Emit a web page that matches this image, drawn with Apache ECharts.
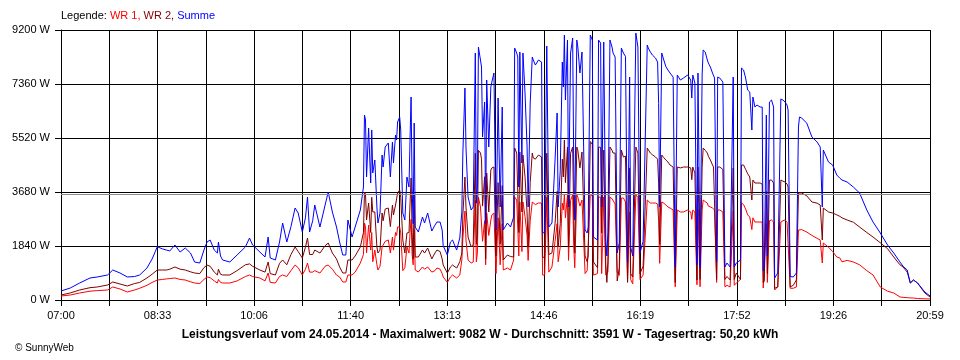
<!DOCTYPE html>
<html>
<head>
<meta charset="utf-8">
<script src="https://cdn.jsdelivr.net/npm/echarts@6.0.0/dist/echarts.min.js"></script>
<style>
html,body{margin:0;padding:0;background:#fff;}
#chart{width:960px;height:360px;}
</style>
</head>
<body>
<div id="chart"></div>
<script>
// minutes after 07:00
const timeMin = [
0,9,18,28,35,45,50,57,64,71,
76,83,88,93,98,102,105,110,115,120,
125,129,134,138,141,144,148,151,152,154,
156,163,170,178,182,185,192,197,200,202,
207,211,214,218,222,226,229,233,236,238,
240,243,245,250,255,258,262,266,269,272,
275,277,281,284,289,292,293,294,295,297,
299,300,301,303,305,306,308,310,311,313,
316,318,320,321,323,324,325,327,328,330,
332,334,336,337,338,339,340,341,342,345,
349,351,354,358,361,363,366,368,369,373,
376,378,382,385,387,388,390,391,393,396,
398,400,401,402,403,405,406,407,409,410,
411,413,415,416,418,420,422,424,426,427,
431,434,437,438,440,441,442,443,445,446,
448,450,451,453,455,456,458,461,464,465,
467,469,471,474,477,479,480,482,484,485,
486,487,489,490,492,494,495,496,498,499,
501,503,504,506,508,509,511,513,514,518,
519,521,522,524,526,527,528,530,532,533,
535,537,539,541,543,545,547,549,550,552,
555,557,559,562,566,567,569,571,574,576,
577,578,580,582,584,586,588,591,593,595,
598,601,605,608,609,610,612,614,615,617,
619,620,622,624,625,627,629,630,631,633,
634,636,639,641,643,646,649,650,652,656,
657,659,661,663,665,667,668,670,672,675,
677,678,679,681,682,684,686,688,689,692,
695,697,699,701,702,704,707,710,712,713,
715,720,725,730,733,735,736,741,745,749,
752,754,759,765,771,778,784,791,798,804,
810,813,817,820,823,827,834,839
];

const summe = [
307,409,579,750,784,852,1022,920,784,800,
852,1090,1400,1816,1740,1700,1670,1874,1635,1772,
1601,1295,1260,1700,1976,2044,1700,1601,1976,1500,
1363,1295,1533,1806,2112,1874,1635,1465,2146,1431,
1363,1976,2623,1976,2500,3134,2964,2317,2800,3509,
2317,2700,3237,2487,3237,3680,2998,2487,1976,1533,
1533,2726,2146,2487,3066,3850,6303,6133,4191,5860,
3986,5792,4327,4770,3169,2623,2964,4940,4531,5213,
5349,4191,5383,4668,5622,5451,6065,6235,5792,2964,
2726,4191,3850,5500,6916,3850,2600,6030,2487,2317,
2828,2623,2964,2350,2550,2657,2657,2385,1850,1533,
1976,2044,1703,2112,3000,5008,7223,5213,3509,3066,
3169,8415,3300,3850,8620,8177,7938,5553,6746,2600,
7495,5213,7257,7427,7734,2385,6882,3169,6575,2385,
2623,2487,2828,8585,8415,8279,3850,8449,4668,8415,
7052,5213,3169,6711,8279,8177,8006,8177,8108,2300,
2283,8654,2487,2623,4770,6371,3169,4400,8108,7257,
9028,6814,8858,3169,8415,8926,4770,2726,8858,8620,
7734,8449,8415,2385,2283,2487,9028,8858,2146,2044,
8858,8756,3169,8790,2044,1500,2283,8858,8620,8415,
8279,1601,1942,8585,8415,8300,1300,7597,1806,1500,
9096,8620,1601,2000,8688,8585,8450,8347,8245,8108,
6700,3169,8415,8177,7950,7836,7734,7597,1124,7666,
7495,7564,7666,7495,6882,7666,7393,1200,7734,1100,
7666,8518,8449,8177,8074,7938,7734,7666,7564,1300,
7597,7564,7427,1124,1260,1124,7597,1124,1260,1363,
7904,7836,7564,7155,7087,5792,6916,6575,6643,6575,
6575,1000,1124,6303,1500,6746,6814,6575,750,920,
6848,6814,6750,6643,6473,800,784,920,5894,6235,
6201,6030,5553,5383,5213,3169,5110,4702,4600,4259,
4150,4088,4020,3850,3646,3066,2657,2283,1874,1601,
1295,1150,1022,579,681,579,273,136
];

const wr2 = [
170,240,341,420,443,511,613,545,477,560,
600,750,880,1022,1022,1022,1050,1124,1050,1022,
960,920,900,1100,1192,1150,950,852,1050,880,
852,852,1000,1200,1230,1150,1022,950,1295,900,
852,1250,1363,1200,1550,1806,1650,1431,1800,2112,
1550,1550,1703,1600,1850,1942,1600,1400,1124,920,
920,1363,1363,1500,1806,2300,3680,3600,2726,3305,
2300,3500,3000,3000,1806,1601,1700,2964,2700,3100,
3134,2500,3237,2900,3237,3300,3646,3748,3500,2044,
1600,2283,2300,3300,4157,2300,1400,3600,1465,1465,
1703,1600,1772,1400,1600,1703,1650,1400,1192,920,
1124,1192,1090,1300,1601,2900,4191,3169,2146,1806,
1900,5000,1900,2200,5100,5008,4800,3200,4200,1400,
4327,3000,4429,4500,4531,1500,4000,1900,3900,1363,
1533,1480,1465,5179,5008,4950,2300,5042,3000,4940,
4200,2964,1800,4000,5008,4838,4800,4940,4872,1450,
1465,5000,1550,1601,2600,3700,1806,2600,4800,4191,
5451,4000,5213,1800,5000,5213,2900,1600,5213,5100,
4500,5042,5008,1500,1300,1500,5400,5300,1300,1100,
5213,5200,2283,5110,1200,600,1300,5213,5100,5008,
5008,650,1100,5110,4872,4900,600,4500,900,784,
5213,5000,900,1150,5179,5150,5008,4950,4872,4800,
3986,1900,4940,4850,4770,4700,4600,4531,600,4531,
4500,4531,4531,4500,4100,4531,4327,681,4531,700,
4531,5179,5100,5008,4900,4770,4600,4531,4500,700,
4531,4531,4450,700,800,681,4500,700,920,700,
4600,4600,4450,4300,4191,3407,4088,3986,3986,3986,
3950,579,650,3700,900,4088,4088,3986,400,443,
4088,4050,4020,3950,3850,443,500,681,3646,3680,
3646,3550,3339,3300,3237,2044,3134,2998,2964,2900,
2850,2800,2726,2650,2487,2300,2146,1950,1750,1465,
1200,1124,950,579,681,579,238,102
];

const wr1 = [
136,170,238,300,320,341,443,375,273,340,
400,500,600,681,700,720,730,750,700,681,
620,579,560,700,784,760,650,579,700,600,
579,579,650,800,852,800,750,650,920,600,
579,800,852,800,1000,1192,1100,852,1050,1260,
950,950,1000,920,1150,1192,1050,850,784,613,
613,852,852,950,1260,1550,2623,2500,1601,2550,
1700,2300,1300,1700,1200,1022,1150,1806,1800,2000,
2044,1600,2146,1700,2300,2200,2487,2487,2283,1000,
1100,1806,1600,2300,2750,1550,1200,2400,1022,954,
1124,1050,1124,950,1000,1090,1050,900,784,600,
784,852,750,850,1363,2100,3030,2044,1363,1260,
1295,3400,1300,1600,3500,3169,3169,2000,2700,1200,
2964,2200,2726,2900,2964,900,2800,1200,2600,1022,
1090,1022,1363,3509,3407,3339,1500,3339,1650,3339,
2850,2200,1350,2700,3339,3339,3250,3305,3305,850,
850,3500,950,1124,2000,2600,1300,1800,3300,3066,
3577,2800,3577,1350,3400,3577,1850,1100,3577,3500,
3200,3407,3407,900,1000,1000,3600,3550,850,900,
3509,3500,900,3509,850,850,950,3509,3450,3400,
3270,950,840,3475,3475,3339,650,3000,700,550,
3577,3500,700,850,3407,3400,3305,3305,3305,3270,
2726,1250,3339,3300,3237,3170,3134,3066,450,3066,
3000,2998,3066,3000,2750,3066,2998,520,3100,450,
3066,3407,3350,3305,3200,3170,3134,3100,3066,600,
3066,3066,3000,450,500,443,3050,500,579,700,
3305,3250,3100,2900,2828,2400,2800,2657,2657,2657,
2657,409,450,2600,600,2700,2726,2657,341,450,
2657,2700,2726,2650,2623,400,400,443,2385,2453,
2400,2317,2200,2100,2044,1260,1942,1800,1650,1465,
1431,1300,1350,1295,1200,1000,852,443,300,238,
102,90,80,70,68,50,40,34
];

const xTickLabels = ['07:00','','08:33','','10:06','','11:40','','13:13','','14:46','','16:19','','17:52','','19:26','','20:59'];
const yMax = 9200, yStep = 1840;
const average = 3591;
const titleText = 'Leistungsverlauf vom 24.05.2014 - Maximalwert: 9082 W - Durchschnitt: 3591 W - Tagesertrag: 50,20 kWh';

const xMax = 839;
const xStep = xMax / (xTickLabels.length - 1);
const FONT = '"Liberation Sans", Arial, sans-serif';

function pairs(vals){ return timeMin.map((t,i)=>[t, vals[i]]); }

const chart = echarts.init(document.getElementById('chart'), null, {renderer:'canvas'});
chart.setOption({
  animation:false,
  backgroundColor:'#ffffff',
  grid:{left:61, right:30, top:30, bottom:60, containLabel:false},
  xAxis:{
    type:'value', min:0, max:xMax, interval:xStep,
    axisLine:{show:true, onZero:false, lineStyle:{color:'#000', width:1}},
    axisTick:{show:true, length:6, lineStyle:{color:'#000'}},
    splitLine:{show:true, lineStyle:{color:'#000', width:1}},
    axisLabel:{
      color:'#000', fontFamily:FONT, fontSize:11, margin:10,
      showMinLabel:true, showMaxLabel:true, hideOverlap:false,
      formatter:function(v){ const i=Math.round(v/xStep); return xTickLabels[i]||''; }
    }
  },
  yAxis:{
    type:'value', min:0, max:yMax, interval:yStep,
    axisLine:{show:true, lineStyle:{color:'#000', width:1}},
    axisTick:{show:true, length:6, lineStyle:{color:'#000'}},
    splitLine:{show:true, lineStyle:{color:'#000', width:1}},
    axisLabel:{color:'#000', fontFamily:FONT, fontSize:11, margin:11,
      formatter:function(v){ return v + ' W'; }}
  },
  series:[
    {name:'WR 1', type:'line', data:pairs(wr1), showSymbol:false, symbol:'none',
     lineStyle:{color:'#ff0000', width:1}, itemStyle:{color:'#ff0000'}, z:2},
    {name:'WR 2', type:'line', data:pairs(wr2), showSymbol:false, symbol:'none',
     lineStyle:{color:'#800000', width:1}, itemStyle:{color:'#800000'}, z:3},
    {name:'Summe', type:'line', data:pairs(summe), showSymbol:false, symbol:'none',
     lineStyle:{color:'#0000ff', width:1}, itemStyle:{color:'#0000ff'}, z:4,
     markLine:{silent:true, symbol:'none', animation:false,
       label:{show:false},
       lineStyle:{color:'#8c8c8c', type:'solid', width:1},
       data:[{yAxis:average}]}}
  ],
  graphic:[
    {type:'text', left:61, top:10, style:{
      text:'Legende: {r|WR 1,} {d|WR 2,} {b|Summe}',
      font:'11px ' + FONT, fill:'#000',
      rich:{r:{fill:'#ff0000', font:'11px ' + FONT}, d:{fill:'#800000', font:'11px ' + FONT}, b:{fill:'#0000ff', font:'11px ' + FONT}}
    }},
    {type:'text', left:'center', top:329, style:{
      text:titleText, font:'bold 12px ' + FONT, fill:'#000'
    }},
    {type:'text', left:15, top:343, style:{
      text:'\u00a9 SunnyWeb', font:'10px ' + FONT, fill:'#000'
    }}
  ]
});
</script>
</body>
</html>
